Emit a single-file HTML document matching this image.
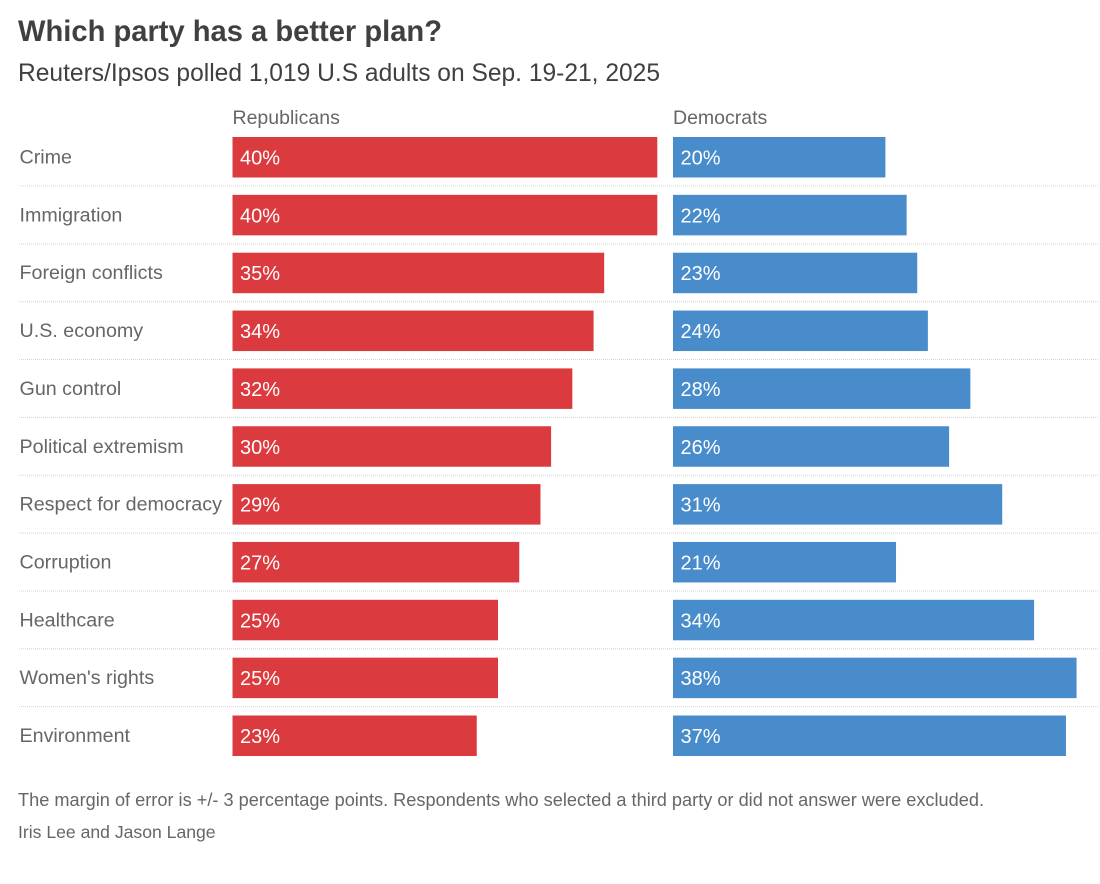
<!DOCTYPE html>
<html lang="en">
<head>
<meta charset="utf-8">
<title>Which party has a better plan?</title>
<style>
html,body{margin:0;padding:0;background:#fff;width:1100px;height:884px;overflow:hidden}
svg{display:block;font-family:"Liberation Sans",sans-serif}
.row-label{font-size:19.7px;fill:#666}
.val{font-size:20px;fill:#fff}
.head{font-size:19.5px;fill:#666}
</style>
</head>
<body>
<svg id="chart" width="1100" height="884" viewBox="0 0 1100 884" xmlns="http://www.w3.org/2000/svg">
  <text x="18" y="41" font-size="30" font-weight="700" fill="#404040" textLength="424" lengthAdjust="spacingAndGlyphs">Which party has a better plan?</text>
  <text x="18" y="81" font-size="25" fill="#404040" textLength="642" lengthAdjust="spacingAndGlyphs">Reuters/Ipsos polled 1,019 U.S adults on Sep. 19-21, 2025</text>
  <text class="head" x="232.5" y="124">Republicans</text>
  <text class="head" x="673" y="124">Democrats</text>
  <g id="rows"></g>
  <text x="18" y="806" font-size="18" fill="#666" textLength="966" lengthAdjust="spacingAndGlyphs">The margin of error is +/- 3 percentage points. Respondents who selected a third party or did not answer were excluded.</text>
  <text x="18" y="838" font-size="17.6" fill="#666">Iris Lee and Jason Lange</text>
</svg>
<script>
const categories = ["Crime","Immigration","Foreign conflicts","U.S. economy","Gun control","Political extremism","Respect for democracy","Corruption","Healthcare","Women's rights","Environment"];
const republicans = [40,40,35,34,32,30,29,27,25,25,23];
const democrats = [20,22,23,24,28,26,31,21,34,38,37];

const NS = "http://www.w3.org/2000/svg";
const rowsGroup = document.getElementById("rows");
const rowTop = 137, rowPitch = 57.85, barHeight = 40.5;
const pxPerPoint = 10.62;
const repX = 232.5, demX = 673;
const xScale = v => v * pxPerPoint;
const yScale = i => rowTop + i * rowPitch;

function slug(s){ return s.toLowerCase().replace(/[^a-z0-9]+/g, "-"); }

function drawBar(i, x0, value, color, party){
  const r = document.createElementNS(NS, "rect");
  r.setAttribute("x", x0);
  r.setAttribute("y", yScale(i));
  r.setAttribute("width", xScale(value));
  r.setAttribute("height", barHeight);
  r.setAttribute("fill", color);
  
  
  rowsGroup.appendChild(r);
  const t = document.createElementNS(NS, "text");
  t.setAttribute("x", x0 + 7.5);
  t.setAttribute("y", yScale(i) + 27.5);
  t.setAttribute("class", "val");
  t.textContent = value + "%";
  
  
  rowsGroup.appendChild(t);
}

categories.forEach((c, i) => {
  const label = document.createElementNS(NS, "text");
  label.setAttribute("x", 19.5);
  label.setAttribute("y", yScale(i) + 26.5);
  label.setAttribute("class", "row-label");
  label.textContent = c;
  
  
  rowsGroup.appendChild(label);

  drawBar(i, repX, republicans[i], "#db3b3e", "republicans");
  drawBar(i, demX, democrats[i], "#488ccb", "democrats");

  if (i < categories.length - 1) {
    const line = document.createElementNS(NS, "line");
    line.setAttribute("x1", 19);
    line.setAttribute("x2", 1098);
    line.setAttribute("y1", yScale(i) + 49);
    line.setAttribute("y2", yScale(i) + 49);
    line.setAttribute("stroke", "#d4d4d4");
    line.setAttribute("stroke-width", 1);
    line.setAttribute("stroke-dasharray", "1 1");
    
    
    rowsGroup.appendChild(line);
  }
});
</script>
</body>
</html>
